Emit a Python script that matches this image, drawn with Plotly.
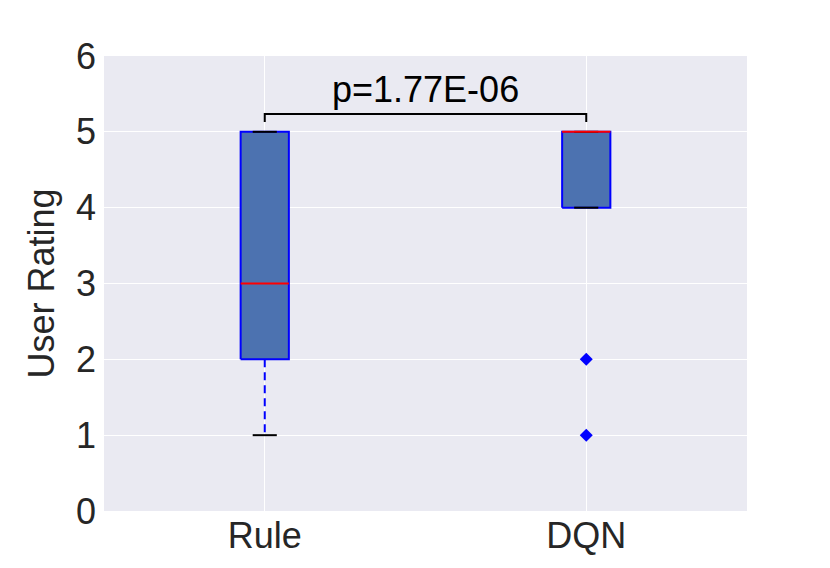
import plotly.graph_objects as go

categories = ["Rule", "DQN"]
positions = [1, 2]
q1 = [2, 4]
median = [3, 5]
q3 = [5, 5]
whisker_low = [1, 4]
whisker_high = [5, 5]
outliers = [[], [2, 1]]
p_text = "p=1.77E-06"
y_ticks = [0, 1, 2, 3, 4, 5, 6]

BOX_W = 0.15
CAP_W = BOX_W / 2
FONT = "Liberation Sans, Arial, sans-serif"
TXT = "#262626"
FS = 36

fig = go.Figure()

for i, pos in enumerate(positions):
    # whiskers (dashed blue)
    for a, b in ((q1[i], whisker_low[i]), (q3[i], whisker_high[i])):
        fig.add_trace(go.Scatter(x=[pos, pos], y=[a, b], mode="lines",
                                 line=dict(color="blue", width=2, dash="8px,5px"),
                                 showlegend=False, hoverinfo="skip"))
    # box body
    x0, x1 = pos - BOX_W / 2, pos + BOX_W / 2
    fig.add_trace(go.Scatter(x=[x0, x1, x1, x0, x0], y=[q1[i], q1[i], q3[i], q3[i], q1[i]],
                             mode="lines", fill="toself", fillcolor="#4C72B0",
                             line=dict(color="blue", width=2),
                             showlegend=False, hoverinfo="skip"))
    # caps (black)
    for wv in (whisker_low[i], whisker_high[i]):
        fig.add_trace(go.Scatter(x=[pos - CAP_W / 2, pos + CAP_W / 2], y=[wv, wv], mode="lines",
                                 line=dict(color="black", width=2),
                                 showlegend=False, hoverinfo="skip"))
    # median (red)
    fig.add_trace(go.Scatter(x=[x0, x1], y=[median[i], median[i]],
                             mode="lines", line=dict(color="red", width=2),
                             showlegend=False, hoverinfo="skip"))
    # outliers
    if outliers[i]:
        fig.add_trace(go.Scatter(x=[pos] * len(outliers[i]), y=outliers[i], mode="markers",
                                 marker=dict(symbol="diamond", color="blue", size=10),
                                 showlegend=False, hoverinfo="skip"))

# significance bracket
br_y = 5.235
br_tick = 0.105
fig.add_trace(go.Scatter(x=[positions[0], positions[0], positions[1], positions[1]],
                         y=[br_y - br_tick, br_y, br_y, br_y - br_tick], mode="lines",
                         line=dict(color="black", width=2),
                         showlegend=False, hoverinfo="skip"))
fig.add_annotation(x=(positions[0] + positions[1]) / 2, y=br_y, text=p_text,
                   showarrow=False, yanchor="bottom", yshift=2,
                   font=dict(family=FONT, size=FS, color="black"))

fig.update_layout(
    width=822, height=560,
    margin=dict(l=96, r=83, t=48, b=57),
    paper_bgcolor="white",
    plot_bgcolor="#EAEAF2",
    font=dict(family=FONT, color=TXT, size=FS),
    xaxis=dict(range=[0.5, 2.5], tickvals=positions, ticktext=categories,
               showgrid=True, gridcolor="white", gridwidth=1, zeroline=False,
               showline=False, ticks="", tickfont=dict(size=FS, color=TXT)),
    yaxis=dict(range=[0, 6], tickvals=y_ticks, showgrid=True, gridcolor="white",
               gridwidth=1, zeroline=False, showline=False, ticks="",
               ticklabelstandoff=7,
               tickfont=dict(size=FS, color=TXT),
               title=dict(text="User Rating", font=dict(size=FS, color=TXT), standoff=10)),
)

fig.write_html("out.html")
